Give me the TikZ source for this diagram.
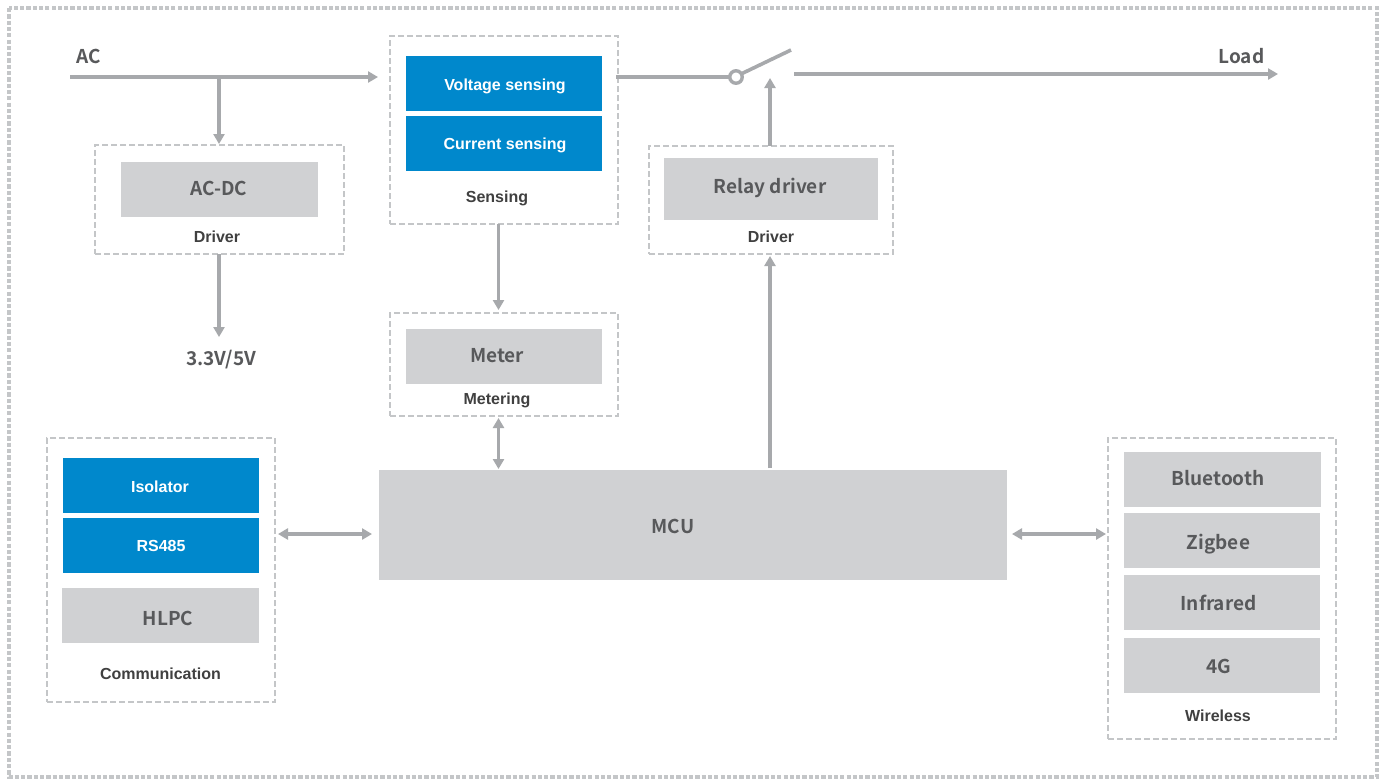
\documentclass[tikz,border=0pt]{standalone}
\usepackage{fontspec}
\usetikzlibrary{arrows.meta}
\setmainfont{Liberation Sans}
\newfontfamily\notofont[BoldFont={Noto Sans CJK SC Bold}]{Noto Sans CJK SC}
\definecolor{linegray}{HTML}{A7A9AC}
\definecolor{boxgray}{HTML}{D0D1D3}
\definecolor{dashgray}{HTML}{C4C6C8}
\definecolor{txtgray}{HTML}{58595B}
\definecolor{sensblue}{HTML}{0088CC}
% horizontal shift, vertical shift (down), text; the box is treated as cap height only
\newcommand{\mvg}[3]{\makebox[0pt][c]{\hspace*{\dimexpr 2\dimexpr #1pt\relax\relax}\raisebox{-#2pt}[13.8pt][0pt]{#3}}}
\newcommand{\mvb}[3]{\makebox[0pt][c]{\hspace*{\dimexpr 2\dimexpr #1pt\relax\relax}\raisebox{-#2pt}[11.5pt][0pt]{#3}}}
\tikzset{
  x=1pt,y=-1pt,
  graybox/.style={fill=boxgray,draw=none,text=txtgray,font=\notofont\bfseries\fontsize{19}{20}\selectfont,inner sep=0pt,outer sep=0pt},
  bluebox/.style={fill=sensblue,draw=none,text=white,font=\bfseries\fontsize{16}{18}\selectfont,inner sep=0pt,outer sep=0pt},
  groupbox/.style={draw=dashgray,line width=1.5pt,dash pattern=on 6pt off 3pt,fill=white,inner sep=0pt,outer sep=0pt},
  caption/.style={text=black!75,font=\bfseries\fontsize{16}{18}\selectfont,inner sep=0pt},
  biglabel/.style={text=txtgray,font=\notofont\bfseries\fontsize{19}{20}\selectfont,inner sep=0pt},
  conn/.style={draw=linegray,line width=3.6pt},
  arr/.style={conn,-{Triangle[length=10pt,width=11pt]}},
  darr/.style={conn,{Triangle[length=10pt,width=11pt]}-{Triangle[length=10pt,width=11pt]}},
}
\begin{document}
\begin{tikzpicture}
\useasboundingbox (0,0) rectangle (1381,780);
\fill[white] (0,0) rectangle (1381,780);
\draw[draw=dashgray,line width=4.5pt,dash pattern=on 4.2pt off 2.1pt] (9,8) rectangle (1377,777);

% groups
\node[groupbox,anchor=north west,minimum width=249pt,minimum height=109pt] (drvgrp) at (95,145) {};
\node[groupbox,anchor=north west,minimum width=228pt,minimum height=188pt] (sensgrp) at (390,36) {};
\node[groupbox,anchor=north west,minimum width=244pt,minimum height=108pt] (relaygrp) at (649,146) {};
\node[groupbox,anchor=north west,minimum width=228pt,minimum height=103pt] (metgrp) at (390,313) {};
\node[groupbox,anchor=north west,minimum width=228pt,minimum height=264pt] (comgrp) at (47,438) {};
\node[groupbox,anchor=north west,minimum width=228pt,minimum height=301pt] (wlgrp) at (1108,438) {};

% boxes
\node[graybox,anchor=north west,minimum width=197pt,minimum height=55pt] (acdc) at (121,162) {\mvg{-0.5}{-0.5}{AC-DC}};
\node[bluebox,anchor=north west,minimum width=196pt,minimum height=55pt] (volt) at (406,56) {\mvb{1}{1.5}{Voltage sensing}};
\node[bluebox,anchor=north west,minimum width=196pt,minimum height=55pt] (curr) at (406,116) {\mvb{1}{0}{Current sensing}};
\node[graybox,anchor=north west,minimum width=214pt,minimum height=62pt] (relay) at (664,158) {\mvg{-1}{-2.5}{Relay driver}};
\node[graybox,anchor=north west,minimum width=196pt,minimum height=55pt] (meter) at (406,329) {\mvg{-7}{-0.5}{Meter}};
\node[bluebox,anchor=north west,minimum width=196pt,minimum height=55pt] (iso) at (63,458) {\mvb{-1}{1}{Isolator}};
\node[bluebox,anchor=north west,minimum width=196pt,minimum height=55pt] (rs) at (63,518) {\mvb{0}{0}{RS485}};
\node[graybox,anchor=north west,minimum width=197pt,minimum height=55pt] (hlpc) at (62,588) {\mvg{7.5}{3.5}{HLPC}};
\node[graybox,anchor=north west,minimum width=628pt,minimum height=110pt] (mcu) at (379,470) {\mvg{-20}{2}{MCU}};
\node[graybox,anchor=north west,minimum width=197pt,minimum height=55pt] (bt) at (1124,452) {\mvg{-4.5}{-0.5}{Bluetooth}};
\node[graybox,anchor=north west,minimum width=196pt,minimum height=55pt] (zig) at (1124,513) {\mvg{-3.5}{2.5}{Zigbee}};
\node[graybox,anchor=north west,minimum width=196pt,minimum height=55pt] (ir) at (1124,575) {\mvg{-3.5}{1.5}{Infrared}};
\node[graybox,anchor=north west,minimum width=196pt,minimum height=55pt] (fg) at (1124,638) {\mvg{-3.5}{1.5}{4G}};

% captions
\node[caption] (capdrv) at (217,236.5) {Driver};
\node[caption] (capsens) at (497,198) {Sensing};
\node[caption] (caprelay) at (771,236.5) {Driver};
\node[caption] (capmet) at (497,400) {Metering};
\node[caption] (capcom) at (160.5,673.5) {Communication};
\node[caption] (capwl) at (1218,715.5) {Wireless};

% labels
\node[biglabel] (aclab) at (88.5,56) {AC};
\node[biglabel] (loadlab) at (1241.5,56) {Load};
\node[biglabel] (vlab) at (221,359.5) {3.3V/5V};

% free ends
\coordinate (acstart) at (70,77);
\coordinate (acjoin) at (219,77);
\coordinate (acend) at (378,77);
\coordinate (volts) at (219,337);
\coordinate (loadstart) at (794,74);
\coordinate (loadend) at (1278,74);
\coordinate (swblade) at (791,50);
\node[draw=linegray,line width=3.4pt,circle,fill=white,minimum size=12.5pt,inner sep=0pt,outer sep=1pt] (pivot) at (736,77) {};
\coordinate (swin) at (616,77);
\coordinate (relayarrow) at (770,78);

% connectors
\draw[arr] (acstart) -- (acend);
\draw[arr] (acjoin) -- (219,144);
\draw[arr] (drvgrp.south -| volts) -- (volts);
\draw[arr] (498.5,224) -- (498.5,310);
\draw[darr] (498.5,418) -- (498.5,469);
\draw[arr] (770,468) -- (770,256);
\draw[arr] (relaygrp.north -| relayarrow) -- (relayarrow);
\draw[conn] (swin) -- (pivot.west);
\draw[conn] (pivot.30) -- (swblade);
\draw[arr] (loadstart) -- (loadend);
\draw[darr] (278,534) -- (372,534);
\draw[darr] (1012,534) -- (1106,534);
\end{tikzpicture}
\end{document}
